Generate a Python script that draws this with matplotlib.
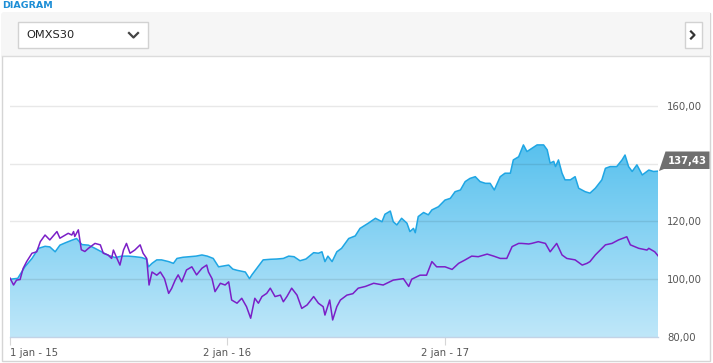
import numpy as np
import matplotlib
matplotlib.use('Agg')
import matplotlib.pyplot as plt
from matplotlib.patches import Rectangle, Polygon
from matplotlib.colors import LinearSegmentedColormap

# days since 2015-01-01 and index values (start = 100)
omx_days = [0, 13, 25, 37, 48, 59, 67, 76, 84, 93, 104, 112, 121, 132, 143, 154, 165, 177,
            188, 199, 210, 222, 230, 233, 239, 247, 255, 267, 275, 281, 291, 303, 313, 323,
            332, 342, 351, 359, 368, 375, 382, 389, 396, 403, 407, 415, 426, 438, 449, 460,
            469, 478, 488, 498, 511, 519, 525, 530, 535, 542, 550, 558, 570, 581, 589, 603,
            615, 626, 631, 640, 645, 651, 659, 668, 673, 679, 682, 687, 696, 704, 710, 721,
            732, 741, 749, 758, 766, 774, 783, 791, 800, 808, 815, 825, 833, 842, 847, 856,
            864, 870, 878, 887, 898, 904, 909, 915, 918, 923, 929, 934, 943, 951, 957, 968,
            976, 985, 996, 1002, 1010, 1021, 1030, 1035, 1041, 1047, 1055, 1064, 1075, 1083, 1091]
omx_vals = [100.0, 100.3, 104.3, 107.2, 110.7, 111.4, 111.2, 109.5, 111.8, 112.6, 113.5, 114.1,
            112.0, 111.8, 110.7, 109.5, 108.3, 107.5, 108.0, 108.0, 107.8, 107.5, 106.9, 104.3,
            105.5, 106.7, 106.7, 106.1, 105.5, 107.2, 107.6, 107.8, 108.0, 108.4, 108.0, 107.2,
            104.3, 104.6, 104.9, 103.5, 103.1, 102.8, 102.5, 100.2, 101.5, 103.7, 106.7, 106.9,
            107.0, 107.2, 108.0, 107.8, 106.4, 107.0, 109.2, 109.0, 109.5, 106.1, 108.0, 106.1,
            109.5, 110.7, 114.1, 115.0, 117.6, 119.4, 121.1, 119.9, 122.5, 123.6, 119.9, 118.8,
            121.1, 119.4, 116.5, 117.6, 116.1, 121.7, 123.1, 122.3, 124.0, 125.1, 127.4, 128.0,
            130.3, 130.9, 133.8, 134.9, 135.5, 133.8, 133.2, 133.2, 130.9, 135.5, 136.7, 136.7,
            141.3, 142.4, 146.5, 144.2, 145.3, 146.5, 146.5, 144.8, 140.2, 140.8, 139.0, 141.3,
            136.7, 134.4, 134.4, 135.5, 131.5, 130.3, 129.8, 131.5, 134.4, 138.4, 139.0, 139.0,
            141.3, 143.0, 139.0, 137.3, 139.6, 136.1, 137.8, 137.3, 137.43]

cmp_days = [0, 6, 11, 17, 22, 28, 37, 45, 51, 59, 67, 79, 84, 93, 98, 104, 107, 109, 115, 120,
            126, 132, 143, 152, 157, 165, 171, 174, 180, 185, 191, 196, 202, 210, 219, 224, 230,
            234, 239, 247, 253, 260, 267, 272, 278, 283, 289, 297, 306, 314, 323, 331, 334, 340,
            345, 354, 362, 368, 373, 382, 390, 398, 405, 412, 418, 424, 432, 438, 446, 455, 460,
            466, 474, 483, 491, 500, 511, 519, 527, 530, 538, 543, 550, 556, 567, 577, 586, 598,
            612, 628, 645, 662, 671, 676, 690, 701, 710, 718, 732, 744, 755, 766, 777, 788, 803,
            814, 825, 836, 845, 856, 861, 873, 878, 889, 901, 909, 920, 929, 937, 951, 963, 971,
            976, 985, 1002, 1013, 1024, 1038, 1044, 1058, 1072, 1075, 1085, 1091]
cmp_vals = [100.4, 98.0, 99.7, 99.9, 103.7, 106.1, 109.0, 109.5, 113.0, 115.3, 113.6, 116.5,
            114.2, 115.3, 115.9, 115.3, 116.5, 114.8, 117.1, 110.2, 109.6, 110.7, 112.4, 111.9,
            109.0, 108.4, 107.2, 110.1, 107.2, 104.9, 110.1, 112.4, 109.0, 110.1, 111.9, 109.0,
            107.2, 98.0, 102.5, 101.4, 102.5, 100.2, 95.1, 96.8, 99.7, 101.5, 99.1, 103.2, 104.3,
            101.5, 103.8, 104.9, 102.5, 100.2, 95.7, 98.6, 98.0, 99.1, 92.8, 91.7, 93.4, 90.5,
            86.5, 93.4, 91.7, 94.0, 95.1, 96.9, 94.0, 94.5, 92.2, 94.0, 96.9, 94.5, 89.9, 91.1,
            94.0, 91.7, 90.5, 87.6, 92.8, 85.9, 90.5, 92.8, 94.5, 95.0, 96.9, 97.5, 98.6, 98.0,
            99.7, 100.2, 97.5, 100.0, 101.4, 101.4, 106.1, 104.3, 104.3, 103.4, 105.5, 106.7,
            108.0, 107.8, 108.7, 108.0, 107.2, 107.2, 111.3, 112.4, 112.4, 112.2, 112.4, 113.0,
            112.4, 109.5, 112.4, 108.4, 107.2, 106.7, 104.9, 105.5, 106.1, 108.4, 111.9, 112.4,
            113.6, 114.7, 111.9, 110.7, 110.1, 110.7, 109.5, 108.0]

x_ticks = [0, 366, 732]
x_labels = ['1 jan - 15', '2 jan - 16', '2 jan - 17']
y_ticks = [80, 100, 120, 140, 160]
# the 140 label sits under the last-value marker in the original, so it is left blank
y_labels = ['80,00', '100,00', '120,00', '', '160,00']
last_label = '137,43'
dropdown = 'OMXS30'

W, H = 713, 363
fig = plt.figure(figsize=(W / 100, H / 100), dpi=100)


def fx(x):
    return x / W


def fy(y):
    return 1 - y / H


# panel frame + header
fig.patches.append(Rectangle((fx(1.5), fy(361)), 708.5 / W, 348 / H, transform=fig.transFigure,
                             facecolor='white', edgecolor='#d5d5d5', lw=1, zorder=-5))
fig.patches.append(Rectangle((fx(2), fy(55.5)), 708 / W, 42 / H, transform=fig.transFigure,
                             facecolor='#f6f6f6', edgecolor='none', zorder=-4))
fig.lines.append(plt.Line2D([fx(1.5), fx(710)], [fy(56), fy(56)], transform=fig.transFigure,
                            color='#dcdcdc', lw=1, zorder=-3))
fig.text(fx(2), fy(6), 'DIAGRAM', color='#1d8ed6', fontsize=6.8, fontweight='bold',
         va='center', ha='left')

# dropdown and arrow button
fig.patches.append(Rectangle((fx(17.5), fy(47.5)), 130 / W, 25 / H, transform=fig.transFigure,
                             facecolor='white', edgecolor='#d2d2d2', lw=1, zorder=-2))
fig.text(fx(26), fy(35.5), dropdown, fontsize=8.2, color='#222222', va='center', ha='left')
fig.lines.append(plt.Line2D([fx(129), fx(133.5), fx(138)], [fy(33), fy(37.5), fy(33)],
                            transform=fig.transFigure, color='#444444', lw=1.6))
fig.patches.append(Rectangle((fx(684.5), fy(47.5)), 17 / W, 25 / H, transform=fig.transFigure,
                             facecolor='white', edgecolor='#d2d2d2', lw=1, zorder=-2))
fig.lines.append(plt.Line2D([fx(691), fx(694.5), fx(691)], [fy(31.5), fy(35), fy(38.5)],
                            transform=fig.transFigure, color='#333333', lw=1.6))

# chart area
ax = fig.add_axes([fx(10), fy(337), 648.3 / W, 275 / H])
ax.set_facecolor('none')

poly = ax.fill_between(omx_days, omx_vals, 80, color='none', lw=0)
cmap = LinearSegmentedColormap.from_list('g', ['#bfe7f9', '#58c1ee'])
grad = np.linspace(0, 1, 256).reshape(-1, 1)
im = ax.imshow(grad, extent=[0, 1091, 80, 147], origin='lower', aspect='auto', cmap=cmap,
               zorder=0.5, interpolation='bicubic')
im.set_clip_path(poly.get_paths()[0], transform=ax.transData)

for v in y_ticks[1:]:
    ax.axhline(v, color='black', alpha=0.09, lw=1, zorder=1.5)

ax.plot(omx_days, omx_vals, color='#1fa6e4', lw=1.1, zorder=3)
ax.plot(cmp_days, cmp_vals, color='#7b1fc7', lw=1.1, zorder=4)

ax.set_xlim(0, 1091)
ax.set_ylim(80, 175.2)

for s in ['top', 'left', 'right']:
    ax.spines[s].set_visible(False)
ax.spines['bottom'].set_color('#c3d3e6')
ax.spines['bottom'].set_linewidth(1)

ax.set_xticks(x_ticks)
ax.set_xticklabels(x_labels)
ax.tick_params(axis='x', length=6, color='#d6d6d6', labelsize=7.3, labelcolor='#555555', pad=2)
ax.get_xticklabels()[0].set_ha('left')

ax.yaxis.tick_right()
ax.set_yticks(y_ticks)
ax.set_yticklabels(y_labels)
ax.tick_params(axis='y', length=0, labelsize=7.3, labelcolor='#555555', pad=6.5)
for lab in ax.get_yticklabels():
    lab.set_va('center_baseline')

# last value marker
fig.patches.append(Polygon([(fx(659), fy(171)), (fx(665.5), fy(151.5)), (fx(709.5), fy(151.5)),
                            (fx(709.5), fy(169)), (fx(664), fy(169))], closed=True,
                           transform=fig.transFigure, facecolor='#6f6f6f', edgecolor='none',
                           zorder=5))
fig.text(fx(687), fy(160.5), last_label, color='white', fontsize=7.3, fontweight='bold',
         va='center', ha='center', zorder=6)

fig.savefig('out.png', dpi=100)
